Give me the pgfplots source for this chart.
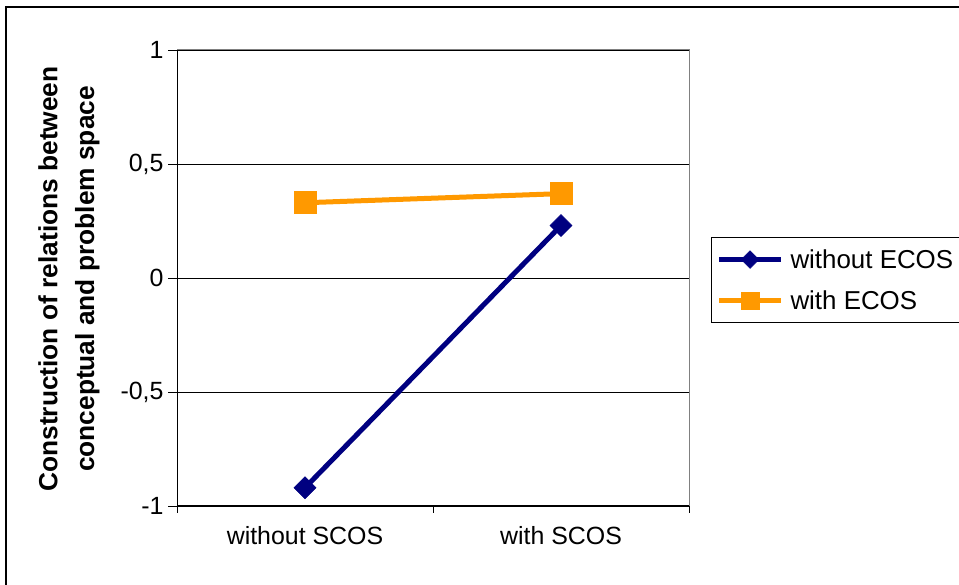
\documentclass[border=0pt]{standalone}
\usepackage{fontspec}
\setmainfont{Liberation Sans}
\usepackage{pgfplots}
\pgfplotsset{compat=1.18}
\definecolor{navyblue}{RGB}{0,0,128}
\definecolor{xlorange}{RGB}{255,153,0}
\begin{document}
\begin{tikzpicture}[x=1bp,y=1bp]
\useasboundingbox (0,0) rectangle (959,585);
\draw[line width=1.5bp] (6,0) -- (6,578) -- (962,578);
\begin{axis}[
  at={(177bp,79bp)}, anchor=south west,
  scale only axis, width=512bp, height=456bp,
  xmin=0, xmax=2, ymin=-1, ymax=1,
  clip=false,
  xtick pos=bottom, ytick pos=left,
  xtick={0.5,1.5}, xticklabels={without SCOS, with SCOS},
  major x tick style={draw=none},
  minor xtick={0,1,2},
  ytick={-1,-0.5,0,0.5,1},
  yticklabels={{-1},{-0,5},{0},{0,5},{1}},
  tick align=outside, major tick length=9bp, minor tick length=7bp,
  tick style={black, line width=0.8bp},
  ymajorgrids, grid style={black, line width=0.8bp},
  axis line style={draw=gray, line width=1bp},
  ticklabel style={font=\fontsize{25}{30}\selectfont},
  yticklabel style={xshift=-1bp},
  xticklabel style={yshift=-8bp},
  legend style={at={(1.043,0.59)}, anchor=north west, draw=black, line width=1bp,
    inner xsep=5bp, inner ysep=10bp, row sep=17bp, column sep=5bp,
    font=\fontsize{26}{31}\selectfont, nodes={inner sep=2bp}},
  legend cell align=left,
  legend image code/.code={\draw[mark repeat=2, mark phase=2, #1, every mark/.append style={scale=0.8}]
    plot coordinates {(0bp,0bp) (31bp,0bp) (62bp,0bp)};},
]
\addplot[navyblue, line width=5bp, mark=square*, mark size=7.8bp,
  mark options={rotate=45, solid, line width=0.5bp}]
  coordinates {(0.5,-0.92) (1.5,0.23)};
\addlegendentry{without ECOS\hspace*{30bp}}
\addplot[xlorange, line width=5bp, mark=square*, mark size=11bp,
  mark options={solid, line width=0.5bp}]
  coordinates {(0.5,0.33) (1.5,0.37)};
\addlegendentry{with ECOS}
\draw[gray, line width=1bp] (rel axis cs:0,1) -- (rel axis cs:1,1) -- (rel axis cs:1,0);
\draw[black, line width=1bp] (rel axis cs:0,1) -- (rel axis cs:0,0) -- (rel axis cs:1,0);
\end{axis}
\node[rotate=90, align=center, font=\bfseries\fontsize{26.4}{37}\selectfont]
  at (69,306) {Construction of relations between\\conceptual and problem space};
\end{tikzpicture}
\end{document}
